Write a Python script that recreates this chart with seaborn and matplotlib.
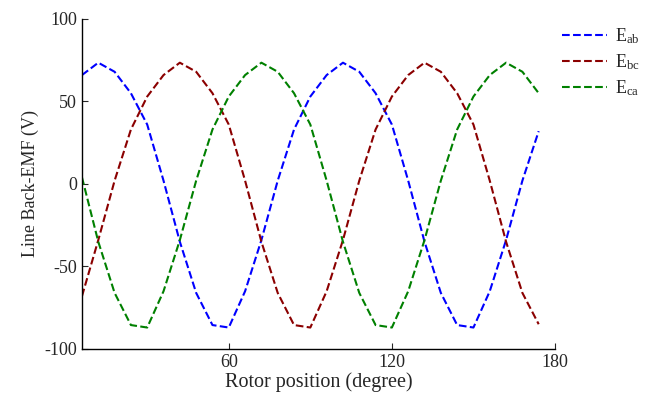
import numpy as np
import pandas as pd
import matplotlib
matplotlib.use("Agg")
import matplotlib.pyplot as plt
import seaborn as sns

# Rotor position (degree)
position = [6, 12, 18, 24, 30, 36, 42, 48, 54, 60, 66, 72, 78, 84, 90,
            96, 102, 108, 114, 120, 126, 132, 138, 144, 150, 156, 162, 168, 174]

e_ab = [66, 73.5, 68, 55, 36, 2, -35, -66, -85.5, -87, -65, -34, 2, 33, 53,
        66, 73.5, 68, 55, 36, 2, -35, -66, -85.5, -87, -65, -34, 2, 32]
e_bc = [-68, -34, 2, 33, 53, 66, 73.5, 68, 55, 36, 2, -35, -66, -85.5, -87,
        -65, -34, 2, 33, 53, 66, 73.5, 68, 55, 36, 2, -35, -66, -85]
e_ca = [4, -35, -66, -85.5, -87, -65, -34, 2, 33, 53, 66, 73.5, 68, 55, 36,
        2, -35, -66, -85.5, -87, -65, -34, 2, 33, 53, 66, 73.5, 68, 55]

labels = [r"$\mathrm{E_{ab}}$", r"$\mathrm{E_{bc}}$", r"$\mathrm{E_{ca}}$"]
colors = ["#0000ff", "#8b0000", "#008000"]

x_ticks = [60, 120, 180]
y_ticks = [-100, -50, 0, 50, 100]

sns.set_style("ticks")
plt.rcParams["font.family"] = ["Liberation Serif", "DejaVu Serif"]
plt.rcParams["mathtext.fontset"] = "custom"
plt.rcParams["mathtext.rm"] = "Liberation Serif"
plt.rcParams["mathtext.it"] = "Liberation Serif:italic"
plt.rcParams["axes.unicode_minus"] = False

df = pd.DataFrame({
    "pos": position * 3,
    "val": e_ab + e_bc + e_ca,
    "series": [labels[0]] * len(position) + [labels[1]] * len(position) + [labels[2]] * len(position),
})

fig = plt.figure(figsize=(6.48, 3.95), dpi=100)
ax = fig.add_axes([0.1265, 0.1165, 0.73, 0.8355])

sns.lineplot(data=df, x="pos", y="val", hue="series", palette=colors,
             linestyle="--", linewidth=1.5, ax=ax, legend=True)
for ln in ax.get_lines():
    ln.set_linestyle("--")

ax.set_xlim(6, 180)
ax.set_ylim(-100, 100)
ax.set_xticks(x_ticks)
ax.set_yticks(y_ticks)
ax.tick_params(direction="in", labelsize=13, length=4, width=0.8)
ax.set_xlabel("Rotor position (degree)", fontsize=14.5, labelpad=1)
ax.set_ylabel("Line Back-EMF (V)", fontsize=13, labelpad=4)
sns.despine(ax=ax)
for s in ["left", "bottom"]:
    ax.spines[s].set_linewidth(1.0)
    ax.spines[s].set_color("black")

handles, labs = ax.get_legend_handles_labels()
for h in handles:
    h.set_linestyle("--")
ax.legend(handles, labs, loc="upper left", bbox_to_anchor=(1.0, 1.0),
          frameon=False, fontsize=13, handlelength=2.5, handletextpad=0.4,
          labelspacing=0.35, borderaxespad=0.0)

fig.savefig("out.png", dpi=100)
